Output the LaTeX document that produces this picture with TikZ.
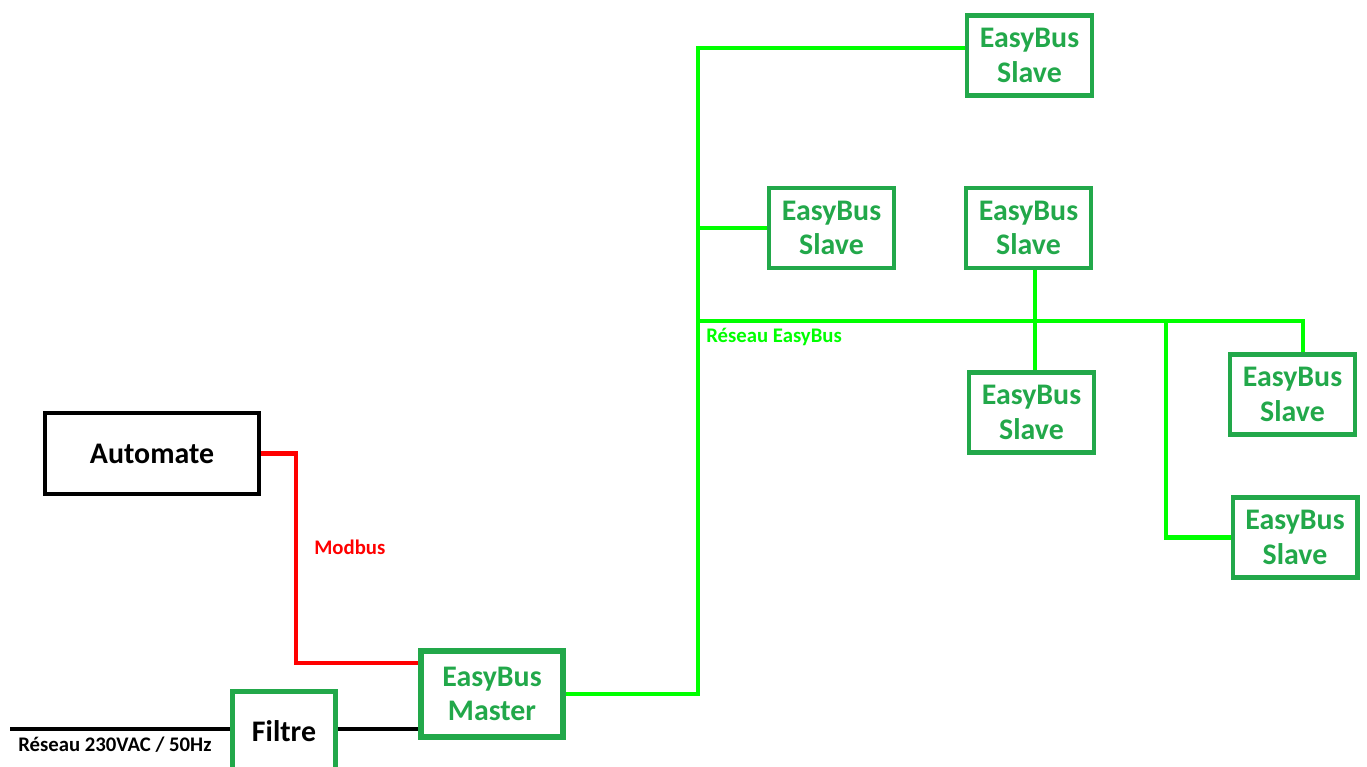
\documentclass[tikz,border=0pt]{standalone}
\usepackage{fontspec}
\setmainfont{Carlito}
\usepackage{xcolor}
\usepackage{tikz}
\definecolor{boxgreen}{HTML}{22A84A}
\definecolor{busgreen}{HTML}{00FF00}
\definecolor{modbusred}{HTML}{FF0000}

\begin{document}
\begin{tikzpicture}[x=0.02cm, y=-0.02cm,
  unit/.style={draw=boxgreen, rectangle, line width=2.3pt, minimum width=2.5cm, minimum height=1.6cm, text=boxgreen, align=center, font=\fontsize{17pt}{19.5pt}\selectfont\bfseries},
  bus/.style={busgreen, line width=2.3pt},
  note/.style={anchor=west, inner sep=0pt, font=\fontsize{11.8pt}{13pt}\selectfont\bfseries}]%
\useasboundingbox (0,0) rectangle (1367,767);%
% boxes
\node[draw, rectangle, line width=2.3pt, minimum width=4.28cm, minimum height=1.62cm, font=\fontsize{17pt}{19.5pt}\selectfont\bfseries] (automate) at (152, 453.5) {Automate};%
\node[unit, line width=2.8pt, minimum width=2.06cm, minimum height=1.6cm, text=black] (filtre) at (284, 731.5) {Filtre};%
\node[unit, line width=3.4pt, minimum width=2.84cm, minimum height=1.72cm] (master) at (492, 694) {EasyBus\\Master};%
\node[unit] (slave1) at (1029.5, 55.5) {EasyBus\\Slave};%
\node[unit] (slave2) at (831.5, 228) {EasyBus\\Slave};%
\node[unit] (slave3) at (1028.5, 228) {EasyBus\\Slave};%
\node[unit] (slave4) at (1031.5, 412.5) {EasyBus\\Slave};%
\node[unit] (slave5) at (1292.5, 394.5) {EasyBus\\Slave};%
\node[unit] (slave6) at (1295, 537.5) {EasyBus\\Slave};%
% mains and modbus
\coordinate (mains) at (10, 729);%
\coordinate (modbusbend) at (296, 663);%
\draw[line width=2.3pt] (mains) -- (filtre.west |- mains);%
\draw[line width=2.3pt] (filtre.east |- mains) -- (master.west |- mains);%
\draw[modbusred, line width=2.3pt] (automate.east) -| (modbusbend) -- (master.west |- modbusbend);%
% easybus network
\coordinate (trunktop) at (698, 48);%
\coordinate (busleft) at (698, 321);%
\coordinate (busright) at (1303, 321);%
\coordinate (drop) at (1035, 321);%
\coordinate (branch) at (1166, 321);%
\draw[bus] (master.east) -| (trunktop) -- (slave1.west |- trunktop);%
\draw[bus] (trunktop |- slave2.west) -- (slave2.west);%
\draw[bus] (busleft) -- (busright) -- (busright |- slave5.north);%
\draw[bus] (drop |- slave3.south) -- (drop |- slave4.north);%
\draw[bus] (branch) |- (slave6.west);%
% labels
\node[note, text=modbusred] (modbuslabel) at (314, 547) {Modbus};%
\node[note, text=busgreen] (buslabel) at (706, 337) {Réseau EasyBus};%
\node[note] (mainslabel) at (18, 745) {Réseau 230VAC / 50Hz};%
\end{tikzpicture}
\end{document}
